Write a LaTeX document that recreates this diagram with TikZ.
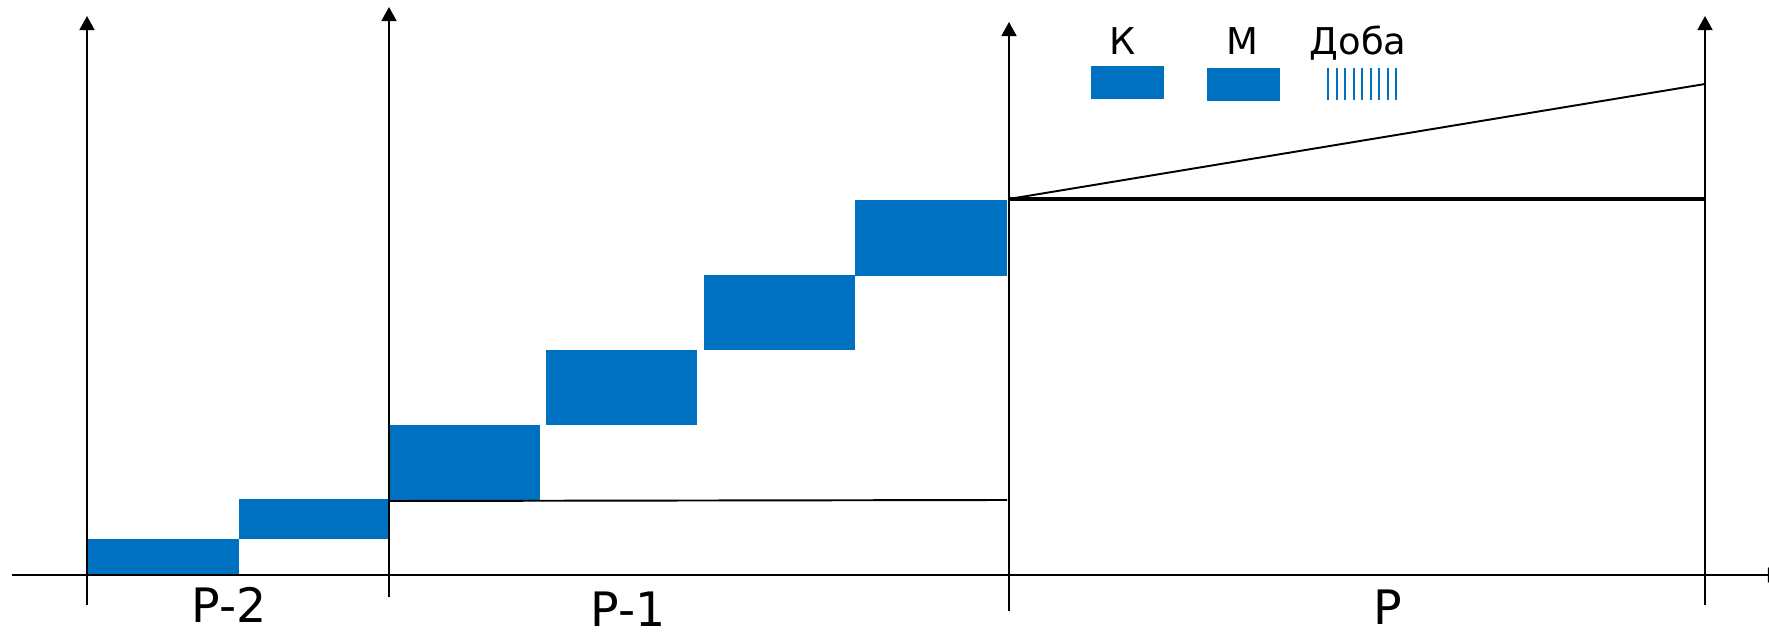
\documentclass[tikz,border=0pt]{standalone}
\usepackage{fontspec}
\setmainfont{DejaVu Sans}
\usetikzlibrary{arrows.meta}
\definecolor{barblue}{HTML}{0070C0}

\begin{document}
\begin{tikzpicture}[
    x=0.2mm,y=-0.2mm,
    axis/.style={-{Triangle[width=8.5pt,length=8pt]},line width=1.15pt},
    bar/.style={fill=barblue},
    level/.style={line width=1.1pt},
    period/.style={font=\fontsize{27}{29}\selectfont,anchor=base,inner sep=0pt},
    legend/.style={font=\fontsize{21}{24}\selectfont,anchor=base}
  ]
    \useasboundingbox (0,0) rectangle (1769,635);
    % steps
    \foreach \xa/\ya/\xb/\yb in {87/539/239/574, 239/499/389/539, 389/425/540/500,
                                 546/350/697/425, 704/275/855/350, 855/200/1007/276}
      \fill[bar] (\xa,\ya) rectangle (\xb,\yb);
    % axes
    \coordinate (xstart) at (12,575);
    \coordinate (xend) at (1782,575);
    \draw[axis] (xstart) -- (xend);
    \foreach \name/\x/\top/\bot in {a/87/16/605, b/389/7/597, c/1009/22/611, d/1705/16/605} {
      \coordinate (\name bot) at (\x,\bot);
      \coordinate (\name top) at (\x,\top);
      \draw[axis] (\name bot) -- (\name top);
    }
    % levels
    \coordinate (lowa) at (389,501);
    \coordinate (lowb) at (1007,500);
    \coordinate (higha) at (1009,199);
    \coordinate (highb) at (1705,199);
    \coordinate (slope) at (1705,84);
    \draw[level] (lowa) -- (lowb);
    \draw[level,line width=1.8pt] (higha) -- (highb);
    \draw[level] (higha) -- (slope);
    % legend
    \fill[bar] (1091,66) rectangle (1164,99);
    \fill[bar] (1207,68) rectangle (1280,101);
    \foreach \i in {0,...,8}
      \draw[barblue,line width=1.2pt] (1328+8.55*\i,68) -- (1328+8.55*\i,100);
    \node[legend] (ktext) at (1123,55) {К};
    \node[legend] (mtext) at (1242,55) {М};
    \node[legend] (dtext) at (1358,55) {Доба};
    % periods
    \node[period] (pminus2) at (229,622) {Р-2};
    \node[period] (pminus1) at (628,626) {Р-1};
    \node[period] (pcur) at (1388,624) {Р};
\end{tikzpicture}
\end{document}
